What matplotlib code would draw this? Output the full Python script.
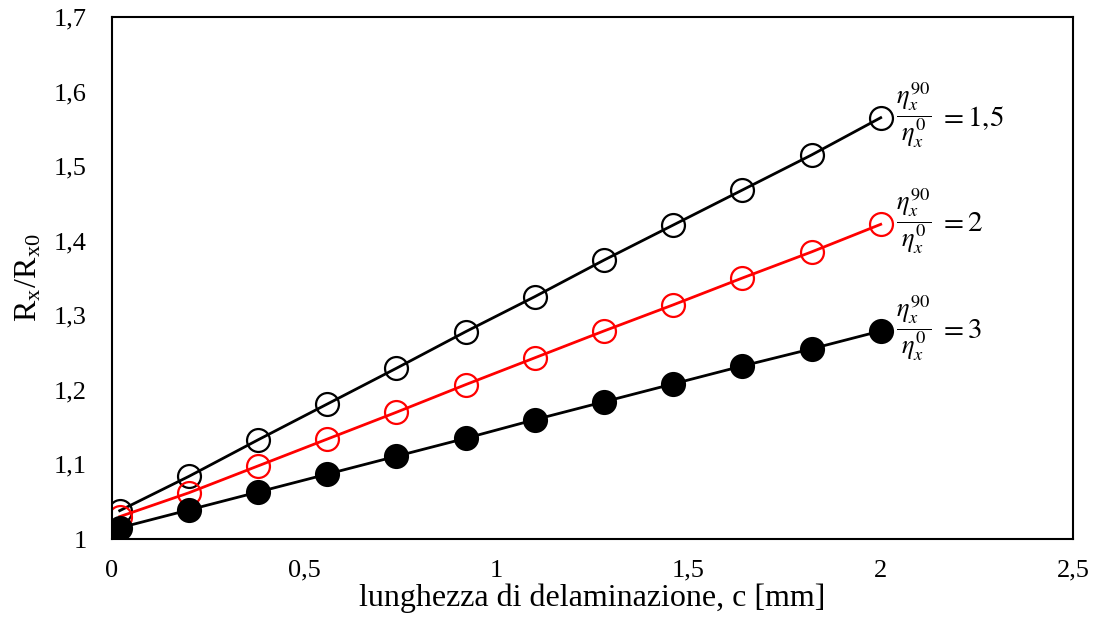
import matplotlib
matplotlib.use("Agg")
import matplotlib.pyplot as plt
from matplotlib.ticker import FuncFormatter

plt.rcParams['font.family'] = ['Liberation Serif', 'DejaVu Serif']
plt.rcParams['mathtext.fontset'] = 'stix'

# lunghezza di delaminazione c [mm]
c = [0.02, 0.2, 0.38, 0.56, 0.74, 0.92, 1.1, 1.28, 1.46, 1.64, 1.82, 2.0]

# R_x / R_x0 per i tre rapporti eta90/eta0
r_15 = [1.038, 1.084, 1.133, 1.181, 1.229, 1.278, 1.325, 1.374, 1.421, 1.468, 1.515, 1.565]
r_2 = [1.030, 1.062, 1.098, 1.134, 1.170, 1.207, 1.243, 1.279, 1.314, 1.350, 1.385, 1.422]
r_3 = [1.015, 1.039, 1.063, 1.087, 1.111, 1.135, 1.160, 1.184, 1.208, 1.232, 1.255, 1.279]

rapporti = ['1{,}5', '2', '3']

fig = plt.figure(figsize=(10.97, 6.17), dpi=100)
ax = fig.add_axes([0.1021, 0.1264, 0.8759, 0.846])

# cerchi vuoti trasparenti: la linea passa dentro il marker
ax.plot(c, r_15, color='black', lw=2, marker='o', ms=16.5, mfc='none', mec='black', mew=1.6)
ax.plot(c, r_2, color='red', lw=2, marker='o', ms=16.5, mfc='none', mec='red', mew=1.6)
ax.plot(c, r_3, color='black', lw=2, marker='o', ms=16.5, mfc='black', mec='black', mew=1.6)

frazione = r'$\dfrac{\eta_x^{90}}{\eta_x^{0}}$'
for serie, rap in zip([r_15, r_2, r_3], rapporti):
    ax.annotate(frazione, xy=(c[-1], serie[-1]), xytext=(11, 2), textcoords='offset points',
                va='center', ha='left', fontsize=19)
    ax.annotate(r'$= ' + rap + '$', xy=(c[-1], serie[-1]), xytext=(42, 0), textcoords='offset points',
                va='center', ha='left', fontsize=21)

ax.set_xlim(0, 2.5)
ax.set_ylim(1, 1.7)
ax.set_xticks([0, 0.5, 1, 1.5, 2, 2.5])
ax.set_yticks([1, 1.1, 1.2, 1.3, 1.4, 1.5, 1.6, 1.7])
fmt = FuncFormatter(lambda v, p: ('%g' % round(v, 2)).replace('.', ','))
ax.xaxis.set_major_formatter(fmt)
ax.yaxis.set_major_formatter(fmt)
ax.tick_params(length=0, labelsize=19)
ax.tick_params(axis='x', pad=15)
ax.tick_params(axis='y', pad=18)

for s in ax.spines.values():
    s.set_linewidth(1.5)

ax.set_xlabel('lunghezza di delaminazione, c [mm]', fontsize=23, labelpad=1)
ax.set_ylabel(r'R$_\mathregular{x}$/R$_\mathregular{x0}$', fontsize=23, labelpad=7)

fig.savefig('out.png', dpi=100)
